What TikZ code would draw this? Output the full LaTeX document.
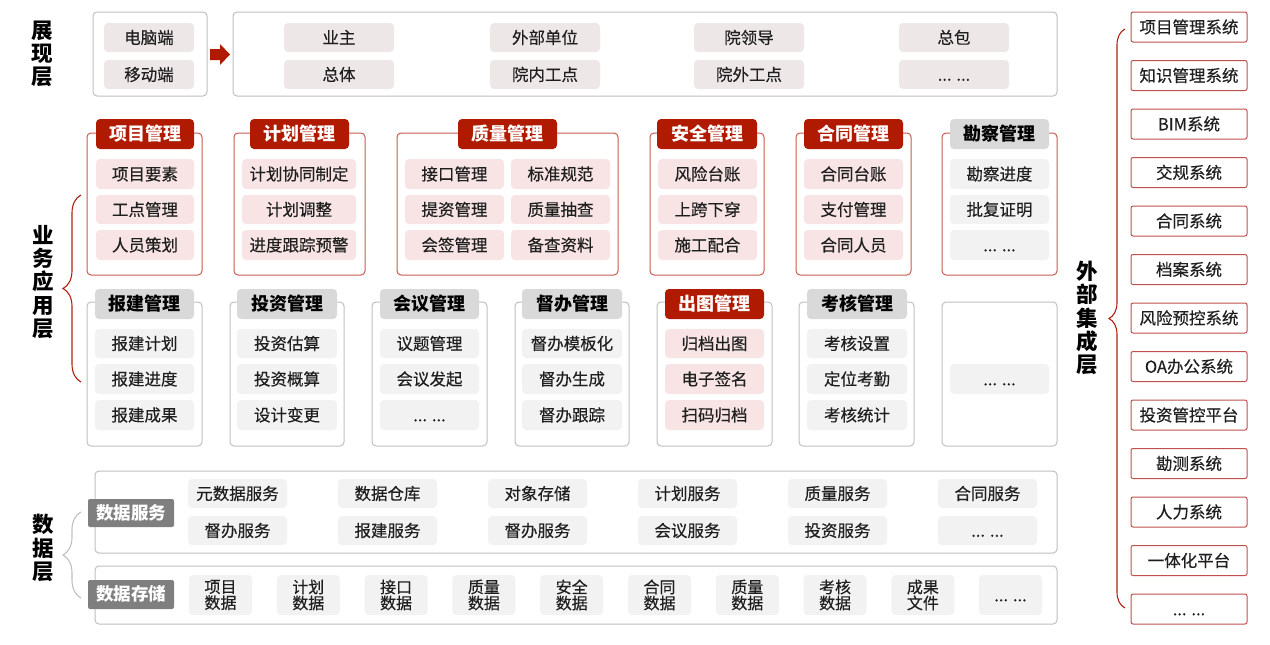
\documentclass[tikz,border=0pt]{standalone}
\usepackage{fontspec}
\setmainfont{Noto Sans CJK SC}[UprightFeatures={FakeBold=0.35}]
\usetikzlibrary{decorations.pathreplacing}
\definecolor{headred}{HTML}{AF1A00}
\definecolor{cardred}{HTML}{C65A4E}
\definecolor{extred}{HTML}{C0504D}
\definecolor{pinkfill}{HTML}{F8E4E4}
\definecolor{grayfill}{HTML}{F2F2F2}
\definecolor{presfill}{HTML}{EEE7E8}
\definecolor{headgray}{HTML}{D9D9D9}
\definecolor{cardgray}{HTML}{BFBFBF}
\definecolor{taggray}{HTML}{7F7F7F}
\definecolor{txt}{HTML}{1F1F1F}
\definecolor{bracered}{HTML}{B02010}
\newcommand\bx[7]{\node[#6,minimum width=#4-#2,minimum height=#5-#3] (#1) at ({(#2+#4)/2},{(#3+#5)/2}) {#7};}
\newcommand\dd{... ...}
\tikzset{
 base0/.style={inner sep=0pt, rounded corners=4pt, font=\fontsize{16.5}{16.5}\selectfont, text=txt},
 base/.style={base0, text height=14.5pt, text depth=2pt},
 pitem/.style={base, fill=pinkfill},
 gitem/.style={base, fill=grayfill},
 sitem/.style={base, fill=presfill},
 two/.style={base0, fill=grayfill, align=center, font=\fontsize{16}{16}\selectfont},
 rcard/.style={draw=cardred, line width=1pt, rounded corners=4pt, inner sep=0pt},
 gcard/.style={draw=cardgray, line width=1pt, rounded corners=4pt, inner sep=0pt},
 rhead/.style={base, fill=headred, text=white, font=\fontsize{18}{18}\selectfont\bfseries},
 ghead/.style={base, fill=headgray, text=black, font=\fontsize{18}{18}\selectfont\bfseries},
 tagbox/.style={base, rounded corners=2pt, fill=taggray, text=white, font=\fontsize{17.5}{17.5}\selectfont\bfseries},
 ext/.style={base, draw=extred, line width=1pt, rounded corners=2pt, fill=white},
 layer/.style={inner sep=0pt, align=center, font=\fontsize{21.5}{23.3}\selectfont\bfseries, text=black},
 rbrace/.style={draw=bracered, line width=1.1pt, decorate, decoration={brace, amplitude=18pt}},
 gbrace/.style={draw=cardgray, line width=1.1pt, decorate, decoration={brace, amplitude=18pt}},
}
\begin{document}
\begin{tikzpicture}[x=1pt,y=-1pt]
\useasboundingbox (0,0) rectangle (1270,645);
% ---------- presentation layer
\node[layer] (Lp) at (42,54) {展\\现\\层};
\bx{pL}{93}{12}{207}{96}{gcard}{}
\bx{pc}{104}{23}{194}{52}{sitem}{电脑端}
\bx{pm}{104}{60}{194}{89}{sitem}{移动端}
\fill[headred] (210,49) -- (220,49) -- (220,44) -- (230,54.5) -- (220,65) -- (220,60) -- (210,60) -- cycle;
\bx{pR}{233}{12}{1057}{96}{gcard}{}
\bx{p1}{284}{23}{394}{52}{sitem}{业主}
\bx{p2}{490}{23}{600}{52}{sitem}{外部单位}
\bx{p3}{694}{23}{804}{52}{sitem}{院领导}
\bx{p4}{899}{23}{1009}{52}{sitem}{总包}
\bx{p5}{284}{60}{394}{89}{sitem}{总体}
\bx{p6}{490}{60}{600}{89}{sitem}{院内工点}
\bx{p7}{694}{60}{804}{89}{sitem}{院外工点}
\bx{p8}{899}{60}{1009}{89}{sitem}{\dd}
% ---------- business layer
\node[layer] (Lb) at (43,282) {业\\务\\应\\用\\层};
\draw[rbrace] (81,382) -- (81,195);
% row 1
\bx{c1}{87}{133}{202}{275}{rcard}{}
\bx{h1}{96}{119}{194}{149}{rhead}{项目管理}
\bx{c1a}{96}{159}{194}{189}{pitem}{项目要素}
\bx{c1b}{96}{195}{194}{224}{pitem}{工点管理}
\bx{c1c}{96}{230}{194}{260}{pitem}{人员策划}
\bx{c2}{234}{133}{365}{275}{rcard}{}
\bx{h2}{250}{119}{349}{149}{rhead}{计划管理}
\bx{c2a}{242}{159}{356}{189}{pitem}{计划协同制定}
\bx{c2b}{242}{195}{356}{224}{pitem}{计划调整}
\bx{c2c}{242}{230}{356}{260}{pitem}{进度跟踪预警}
\bx{c3}{397}{133}{618}{275}{rcard}{}
\bx{h3}{458}{119}{557}{149}{rhead}{质量管理}
\bx{c3a}{405}{159}{504}{189}{pitem}{接口管理}
\bx{c3b}{405}{195}{504}{224}{pitem}{提资管理}
\bx{c3c}{405}{230}{504}{260}{pitem}{会签管理}
\bx{c3d}{511}{159}{610}{189}{pitem}{标准规范}
\bx{c3e}{511}{195}{610}{224}{pitem}{质量抽查}
\bx{c3f}{511}{230}{610}{260}{pitem}{备查资料}
\bx{c4}{650}{133}{764}{275}{rcard}{}
\bx{h4}{657}{119}{757}{149}{rhead}{安全管理}
\bx{c4a}{658}{159}{757}{189}{pitem}{风险台账}
\bx{c4b}{658}{195}{757}{224}{pitem}{上跨下穿}
\bx{c4c}{658}{230}{757}{260}{pitem}{施工配合}
\bx{c5}{796}{133}{911}{275}{rcard}{}
\bx{h5}{804}{119}{903}{149}{rhead}{合同管理}
\bx{c5a}{804}{159}{903}{189}{pitem}{合同台账}
\bx{c5b}{804}{195}{903}{224}{pitem}{支付管理}
\bx{c5c}{804}{230}{903}{260}{pitem}{合同人员}
\bx{c6}{942}{133}{1057}{275}{rcard}{}
\bx{h6}{950}{119}{1049}{149}{ghead}{勘察管理}
\bx{c6a}{950}{159}{1049}{189}{gitem}{勘察进度}
\bx{c6b}{950}{195}{1049}{224}{gitem}{批复证明}
\bx{c6c}{950}{230}{1049}{260}{gitem}{\dd}
% row 2
\bx{d1}{87}{302}{202}{446}{gcard}{}
\bx{k1}{95}{289}{194}{319}{ghead}{报建管理}
\bx{d1a}{95}{329}{194}{358}{gitem}{报建计划}
\bx{d1b}{95}{364}{194}{394}{gitem}{报建进度}
\bx{d1c}{95}{400}{194}{430}{gitem}{报建成果}
\bx{d2}{230}{302}{344}{446}{gcard}{}
\bx{k2}{237}{289}{337}{319}{ghead}{投资管理}
\bx{d2a}{237}{329}{337}{358}{gitem}{投资估算}
\bx{d2b}{237}{364}{337}{394}{gitem}{投资概算}
\bx{d2c}{237}{400}{337}{430}{gitem}{设计变更}
\bx{d3}{372}{302}{487}{446}{gcard}{}
\bx{k3}{380}{289}{479}{319}{ghead}{会议管理}
\bx{d3a}{380}{329}{479}{358}{gitem}{议题管理}
\bx{d3b}{380}{364}{479}{394}{gitem}{会议发起}
\bx{d3c}{380}{400}{479}{430}{gitem}{\dd}
\bx{d4}{515}{302}{629}{446}{gcard}{}
\bx{k4}{522}{289}{622}{319}{ghead}{督办管理}
\bx{d4a}{522}{329}{622}{358}{gitem}{督办模板化}
\bx{d4b}{522}{364}{622}{394}{gitem}{督办生成}
\bx{d4c}{522}{400}{622}{430}{gitem}{督办跟踪}
\bx{d5}{657}{302}{772}{446}{gcard}{}
\bx{k5}{665}{289}{764}{319}{rhead}{出图管理}
\bx{d5a}{665}{329}{764}{358}{pitem}{归档出图}
\bx{d5b}{665}{364}{764}{394}{pitem}{电子签名}
\bx{d5c}{665}{400}{764}{430}{pitem}{扫码归档}
\bx{d6}{799}{302}{914}{446}{gcard}{}
\bx{k6}{807}{289}{907}{319}{ghead}{考核管理}
\bx{d6a}{807}{329}{907}{358}{gitem}{考核设置}
\bx{d6b}{807}{364}{907}{394}{gitem}{定位考勤}
\bx{d6c}{807}{400}{907}{430}{gitem}{考核统计}
\bx{d7}{942}{302}{1057}{446}{gcard}{}
\bx{d7a}{950}{364}{1049}{394}{gitem}{\dd}
% ---------- data layer
\node[layer] (Ld) at (43,548) {数\\据\\层};
\draw[gbrace] (81,598) -- (81,512);
\bx{ds}{95}{471}{1057}{553}{gcard}{}
\bx{dst}{95}{566}{1057}{624}{gcard}{}
\bx{t1}{88}{499}{174}{527}{tagbox}{数据服务}
\bx{t2}{88}{580}{174}{609}{tagbox}{数据存储}
\foreach \t [count=\i from 0] in {元数据服务,数据仓库,对象存储,计划服务,质量服务,合同服务}{
  \pgfmathsetmacro\xa{188+150*\i}\pgfmathsetmacro\xb{\xa+99}
  \bx{sa\i}{\xa}{479}{\xb}{508}{gitem}{\t}
}
\foreach \t [count=\i from 0] in {督办服务,报建服务,督办服务,会议服务,投资服务,\dd}{
  \pgfmathsetmacro\xa{188+150*\i}\pgfmathsetmacro\xb{\xa+99}
  \bx{sb\i}{\xa}{516}{\xb}{545}{gitem}{\t}
}
\foreach \t [count=\i from 0] in {项目\\数据,计划\\数据,接口\\数据,质量\\数据,安全\\数据,合同\\数据,质量\\数据,考核\\数据,成果\\文件}{
  \pgfmathsetmacro\xa{189+87.8*\i}\pgfmathsetmacro\xb{\xa+63}
  \bx{st\i}{\xa}{575}{\xb}{615}{two}{\t}
}
\bx{st9}{979}{575}{1042}{615}{gitem}{\dd}
% ---------- external integration layer
\node[layer] (Le) at (1087,318) {外\\部\\集\\成\\层};
\draw[rbrace, decoration={brace, amplitude=16pt}] (1125,608) -- (1125,29);
\foreach \t [count=\i from 0] in {项目管理系统,知识管理系统,BIM系统,交规系统,合同系统,档案系统,风险预控系统,OA办公系统,投资管控平台,勘测系统,人力系统,一体化平台,\dd}{
  \pgfmathsetmacro\ya{12+48.5*\i}\pgfmathsetmacro\yb{\ya+30}
  \bx{ex\i}{1131}{\ya}{1247}{\yb}{ext}{\t}
}
\end{tikzpicture}
\end{document}
